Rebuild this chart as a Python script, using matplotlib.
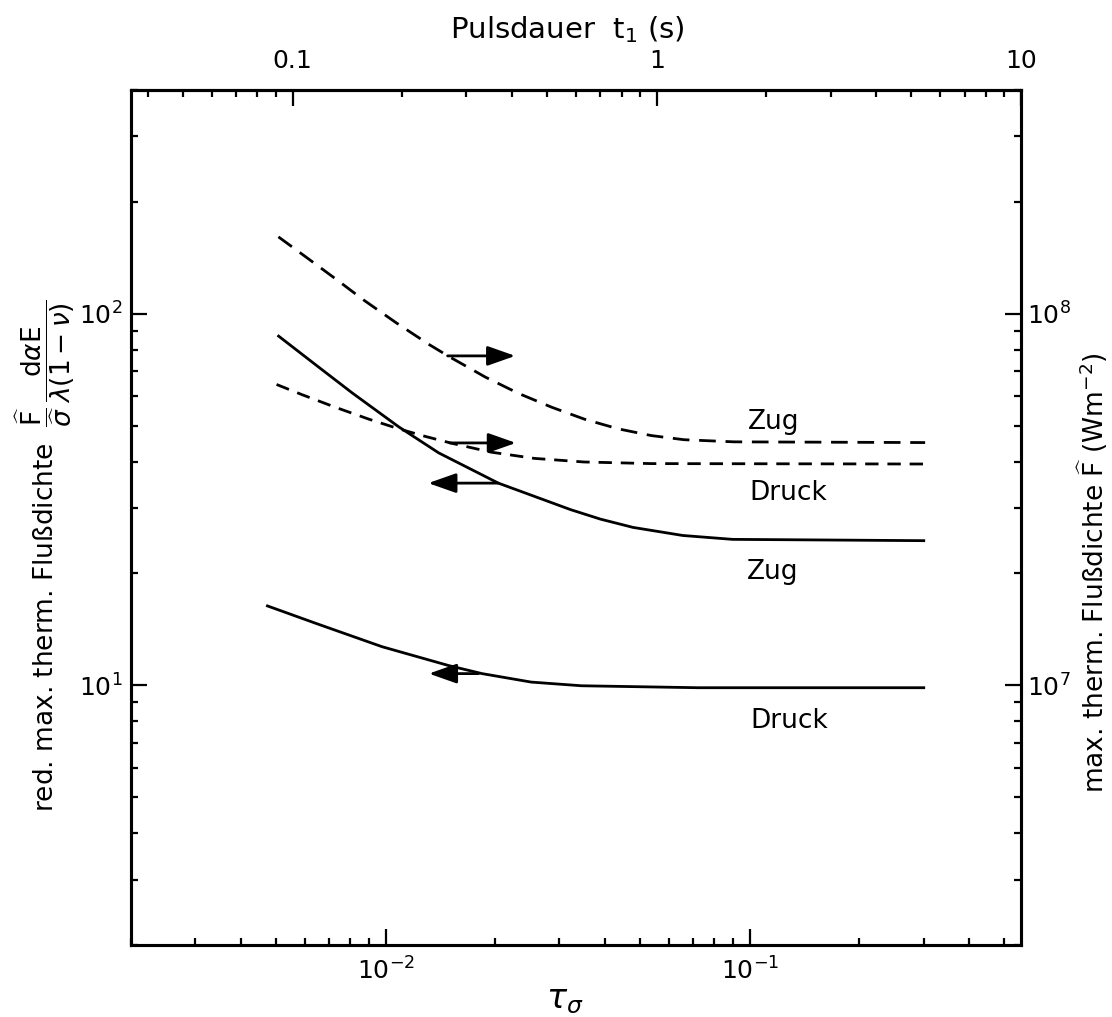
import matplotlib
matplotlib.use('Agg')
import matplotlib.pyplot as plt
from matplotlib.ticker import FixedLocator, FixedFormatter, NullFormatter

plt.rcParams['font.family'] = ['DejaVu Sans']
plt.rcParams['mathtext.fontset'] = 'dejavusans'

# ---------------- data ----------------
# dashed curves: max. therm. Flussdichte F (W m^-2), right axis
tau_zug_dash = [5.08e-3, 6.08e-3, 7.34e-3, 8.69e-3, 1.07e-2, 1.32e-2, 1.50e-2, 1.88e-2,
                2.32e-2, 2.86e-2, 3.52e-2, 4.35e-2, 5.36e-2, 6.6e-2, 9.06e-2, 0.303]
F_zug_dash = [1.61e8, 1.415e8, 1.235e8, 1.09e8, 9.45e7, 8.25e7, 7.65e7, 6.75e7,
              6.1e7, 5.6e7, 5.2e7, 4.9e7, 4.7e7, 4.58e7, 4.52e7, 4.5e7]

tau_druck_dash = [5.02e-3, 5.91e-3, 7.28e-3, 9.01e-3, 1.087e-2, 1.28e-2, 1.52e-2, 1.95e-2,
                  2.56e-2, 3.5e-2, 5.37e-2, 0.303]
F_druck_dash = [6.45e7, 6.05e7, 5.6e7, 5.2e7, 4.9e7, 4.68e7, 4.48e7, 4.24e7,
                4.08e7, 3.99e7, 3.95e7, 3.94e7]

# solid curves: reduced flux density, left axis
tau_zug_solid = [5.05e-3, 6.59e-3, 8.1e-3, 1.087e-2, 1.40e-2, 2.04e-2, 3.22e-2, 3.89e-2,
                 4.78e-2, 6.55e-2, 8.97e-2, 0.303]
v_zug_solid = [87.5, 71.5, 61.2, 49.6, 42.2, 35.0, 29.7, 28.0, 26.6, 25.3, 24.7, 24.5]

tau_druck_solid = [4.70e-3, 6.47e-3, 9.78e-3, 1.49e-2, 1.84e-2, 2.51e-2, 3.45e-2, 7.21e-2, 0.303]
v_druck_solid = [16.4, 14.65, 12.7, 11.3, 10.75, 10.2, 9.97, 9.85, 9.85]

# arrows (tail -> head), in left-axis units
arrow_tail_tau = [0.0148, 0.0150, 0.0204, 0.0180]
arrow_head_tau = [0.0227, 0.0228, 0.0131, 0.01315]
arrow_val = [77.0, 44.9, 35.0, 10.75]

# curve labels
label_texts = ['Zug', 'Druck', 'Zug', 'Druck']
label_tau = [0.1164, 0.1274, 0.1153, 0.128]
label_val = [51.0, 33.0, 20.2, 8.0]

# tick labels
bottom_major = [1e-2, 1e-1]
bottom_labels = [r'$10^{-2}$', r'$10^{-1}$']
top_major = [0.1, 1, 10]
top_labels = ['0.1', '1', '10']
left_major = [10, 100]
left_labels = [r'$10^{1}$', r'$10^{2}$']
right_major = [1e7, 1e8]
right_labels = [r'$10^{7}$', r'$10^{8}$']
pulse_factor = 18.0  # t1 = 18 * tau_sigma

# ---------------- figure ----------------
fig = plt.figure(figsize=(11.12, 10.17), dpi=100)
ax = fig.add_axes([0.1178, 0.0708, 0.8004, 0.8407])
ax.set_xscale('log')
ax.set_yscale('log')
ax.set_xlim(2e-3, 10 / pulse_factor)
ax.set_ylim(2, 400)

ax2 = ax.twinx()
ax2.set_yscale('log')
ax2.set_ylim(2e6, 4e8)

lw_line = 2.0
ax.plot(tau_zug_solid, v_zug_solid, color='black', lw=lw_line, solid_capstyle='butt')
ax.plot(tau_druck_solid, v_druck_solid, color='black', lw=lw_line, solid_capstyle='butt')
ax2.plot(tau_zug_dash, F_zug_dash, color='black', lw=lw_line, linestyle=(0, (6.0, 3.5)))
ax2.plot(tau_druck_dash, F_druck_dash, color='black', lw=lw_line, linestyle=(0, (4.8, 3.2)))

for t0, t1, v in zip(arrow_tail_tau, arrow_head_tau, arrow_val):
    ax.annotate('', xy=(t1, v), xytext=(t0, v),
                arrowprops=dict(arrowstyle='-|>,head_length=0.85,head_width=0.3',
                                mutation_scale=20, color='black', lw=2.0,
                                shrinkA=0, shrinkB=0))

for txt, t, v in zip(label_texts, label_tau, label_val):
    ax.text(t, v, txt, ha='center', va='center', fontsize=19)

# ticks
def minors(decades, maxv):
    out = []
    for d in decades:
        for m in range(2, 10):
            val = m * d
            if val <= maxv * 1.0001:
                out.append(val)
    return out

ax.xaxis.set_major_locator(FixedLocator(bottom_major))
ax.xaxis.set_major_formatter(FixedFormatter(bottom_labels))
ax.xaxis.set_minor_locator(FixedLocator(minors([1e-3, 1e-2, 1e-1], 0.55)))
ax.xaxis.set_minor_formatter(NullFormatter())

ax.yaxis.set_major_locator(FixedLocator(left_major))
ax.yaxis.set_major_formatter(FixedFormatter(left_labels))
ax.yaxis.set_minor_locator(FixedLocator(minors([1, 10, 100], 400)))
ax.yaxis.set_minor_formatter(NullFormatter())

ax2.yaxis.set_major_locator(FixedLocator(right_major))
ax2.yaxis.set_major_formatter(FixedFormatter(right_labels))
ax2.yaxis.set_minor_locator(FixedLocator(minors([1e6, 1e7, 1e8], 4e8)))
ax2.yaxis.set_minor_formatter(NullFormatter())

secx = ax.secondary_xaxis('top', functions=(lambda x: x * pulse_factor,
                                            lambda x: x / pulse_factor))
secx.xaxis.set_major_locator(FixedLocator(top_major))
secx.xaxis.set_major_formatter(FixedFormatter(top_labels))
secx.xaxis.set_minor_locator(FixedLocator(minors([0.01, 0.1, 1], 10)))
secx.xaxis.set_minor_formatter(NullFormatter())

for a in (ax, ax2):
    for s in a.spines.values():
        s.set_linewidth(2.2)
for s in secx.spines.values():
    s.set_linewidth(2.2)

ax.tick_params(axis='x', which='both', direction='in', top=False, bottom=True,
               labelsize=18, pad=9)
ax.tick_params(axis='y', which='both', direction='in', left=True, right=False,
               labelsize=18, pad=6)
ax2.tick_params(axis='y', which='both', direction='in', right=True, left=False,
                labelsize=18, pad=4)
secx.tick_params(axis='x', which='both', direction='in', labelsize=18, pad=12)
for a in (ax, ax2, secx):
    a.tick_params(which='major', length=11.5, width=1.6)
    a.tick_params(which='minor', length=5, width=1.6)

# axis titles
fig.text(567 / 1112, 1 - 30 / 1017, r'Pulsdauer  $\mathrm{t}_{1}$ (s)', ha='center', va='center',
         fontsize=21)
fig.text(565 / 1112, 1 - 1000 / 1017, r'$\tau_{\sigma}$', ha='center', va='center',
         fontsize=24)
fig.text(45 / 1112, 1 - 556 / 1017,
         r'red. max. therm. Flußdichte  $\dfrac{\widehat{\mathrm{F}}}{\widehat{\sigma}}\,'
         r'\dfrac{\mathrm{d}\alpha\mathrm{E}}{\lambda(1-\nu)}$',
         rotation=90, ha='center', va='center', fontsize=19)
fig.text(1093 / 1112, 1 - 573 / 1017,
         r'max. therm. Flußdichte $\widehat{\mathrm{F}}$ (Wm$^{-2}$)',
         rotation=90, ha='center', va='center', fontsize=19)

fig.savefig('out.png', dpi=100, facecolor='white')
